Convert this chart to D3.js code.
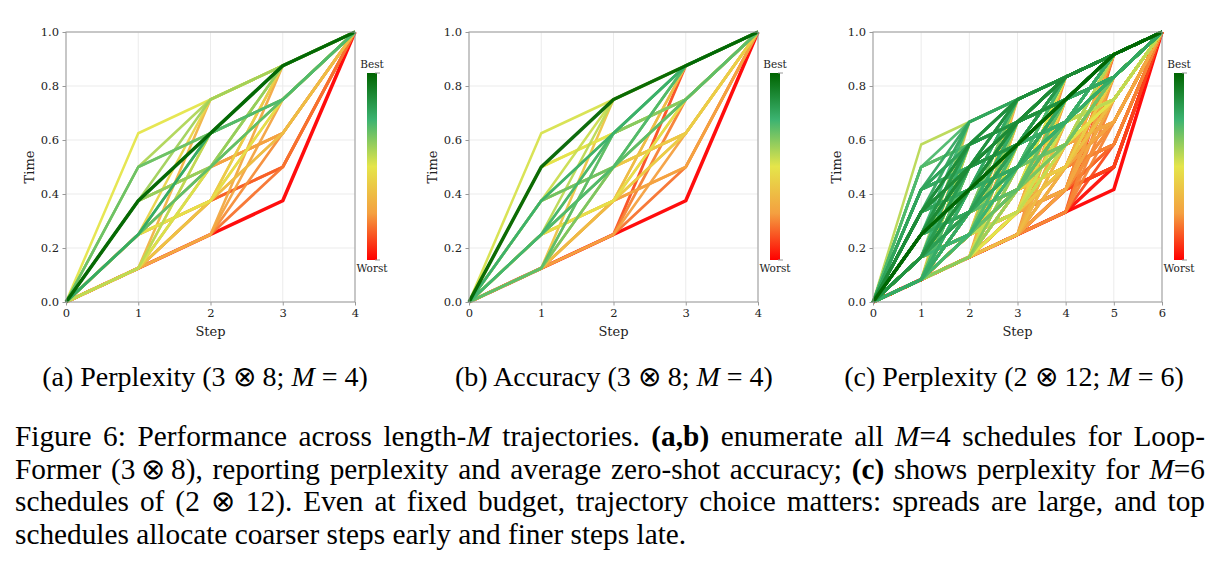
<!DOCTYPE html>
<html>
<head>
<meta charset="utf-8">
<script src="https://cdn.jsdelivr.net/npm/d3@7"></script>
<style>
  body { margin: 0; background: #fff; }
  #fig { position: relative; width: 1219px; height: 568px; overflow: hidden; }
  #fig svg { position: absolute; left: 0; top: 0; }
  .cap { position: absolute; font-family: "Liberation Serif", "Times New Roman", serif;
         font-size: 28px; line-height: 33px; color: #000; white-space: nowrap; }
  .sub { width: 420px; text-align: center; top: 360px; }
  .para { left: 15px; width: 1190px; top: 420px; white-space: normal; font-size: 29.3px; }
  .para div { text-align: justify; text-align-last: justify; height: 32.5px; }
  .para div.last { text-align-last: left; }
</style>
</head>
<body>
<div id="fig"></div>
<script>
// schedules for M=4 over 3x8 (step sizes in eighths)
var scheduleA = ["1115","1124","1133","1142","1151","1214","1223","1232","1241","1313",
                 "1322","1331","1412","1421","1511","2114","2123","2132","2141","2213",
                 "2222","2231","2312","2321","2411","3113","3122","3131","3212","3221",
                 "3311","4112","4121","4211","5111"];

// colour position: 0 = worst, 1 = best
var perplexityA = [0.00, 0.18, 0.22, 0.26, 0.28, 0.15, 0.30, 0.38, 0.30, 0.22,
                   0.46, 0.52, 0.40, 0.56, 0.32, 0.14, 0.36, 0.48, 0.42, 0.24,
                   0.70, 0.62, 0.72, 0.78, 0.44, 0.26, 0.62, 0.60, 0.70, 1.00,
                   0.60, 0.64, 0.68, 0.58, 0.50];

// colour position
var accuracyB = [0.00, 0.18, 0.25, 0.20, 0.12, 0.22, 0.30, 0.35, 0.28, 0.33,
                 0.66, 0.62, 0.64, 0.70, 0.38, 0.26, 0.42, 0.48, 0.36, 0.40,
                 0.70, 0.72, 0.60, 0.74, 0.56, 0.34, 0.58, 0.68, 0.62, 0.76,
                 0.54, 0.45, 0.50, 1.00, 0.52];

// panel (c): all M=6 schedules of 2x12, ranked by an estimated per-step penalty
var unitsC = 12;
var lengthC = 6;
var stepWeightC = [0.5, 0.6, 0.75, 0.9, 1.2, 2.0];
var bestScheduleC = "322221";
// how the ranks spread over the colour bar in (c)
var rankQuantileC = [0, 0.01, 0.04, 0.2, 0.4, 0.6, 0.95, 0.998, 1];
var colourPosC = [0, 0.1, 0.2, 0.3, 0.48, 0.66, 0.8, 0.88, 1];

var timeTicks = [0, 0.2, 0.4, 0.6, 0.8, 1.0];
var cmapStops = [0, 0.25, 0.5, 0.75, 1];
var cmapColors = ["#ff0000", "#f4a040", "#e5e54a", "#3cb371", "#006400"];

var serif = "'DejaVu Serif', serif";
var color = d3.scaleLinear().domain(cmapStops).range(cmapColors);

function compositions(total, parts) {
  if (parts === 1) return [[total]];
  var out = [];
  for (var s = 1; s <= total - parts + 1; s++) {
    compositions(total - s, parts - 1).forEach(function(rest) {
      out.push([s].concat(rest));
    });
  }
  return out;
}

function parseSchedules(list) {
  return list.map(function(s) { return s.split("").map(Number); });
}

var schedC = compositions(unitsC, lengthC);
var costC = schedC.map(function(s) {
  if (s.join("") === bestScheduleC) return -1;
  return d3.sum(s, function(v, i) { return stepWeightC[i] * v * v; });
});
var rankToColour = d3.scaleLinear().domain(rankQuantileC).range(colourPosC);
var orderC = d3.range(schedC.length).sort(function(a, b) { return costC[b] - costC[a]; });
var scoreC = new Array(schedC.length);
orderC.forEach(function(idx, r) { scoreC[idx] = rankToColour(r / (schedC.length - 1)); });

var panels = [
  { left: 66, units: 8, steps: parseSchedules(scheduleA), score: perplexityA },
  { left: 469, units: 8, steps: parseSchedules(scheduleA), score: accuracyB },
  { left: 873, units: unitsC, steps: schedC, score: scoreC }
];

var plotW = 289, plotH = 270, plotTop = 32;

var svg = d3.select("#fig").append("svg").attr("width", 1219).attr("height", 568);

var defs = svg.append("defs");
var grad = defs.append("linearGradient").attr("id", "cbar")
  .attr("x1", 0).attr("y1", 1).attr("x2", 0).attr("y2", 0);
cmapStops.forEach(function(s, i) {
  grad.append("stop").attr("offset", s).attr("stop-color", cmapColors[i]);
});

panels.forEach(function(p) {
  var M = p.steps[0].length;
  var g = svg.append("g").attr("transform", "translate(" + p.left + "," + plotTop + ")");

  var x = d3.scaleLinear().domain([0, M]).range([0, plotW]);
  var y = d3.scaleLinear().domain([0, 1]).range([plotH, 0]);

  // grid
  g.append("g").selectAll("line").data(d3.range(M + 1)).enter().append("line")
    .attr("x1", d => x(d)).attr("x2", d => x(d)).attr("y1", 0).attr("y2", plotH)
    .attr("stroke", "#ebebeb").attr("stroke-width", 1);
  g.append("g").selectAll("line").data(timeTicks).enter().append("line")
    .attr("y1", d => y(d)).attr("y2", d => y(d)).attr("x1", 0).attr("x2", plotW)
    .attr("stroke", "#ebebeb").attr("stroke-width", 1);

  // trajectories, worst first so the best sits on top
  var data = p.steps.map(function(s, i) {
    var cum = [0];
    s.forEach(function(v) { cum.push(cum[cum.length - 1] + v); });
    return { pts: cum.map(c => c / p.units), score: p.score[i] };
  }).sort((a, b) => a.score - b.score);

  var line = d3.line().x((d, i) => x(i)).y(d => y(d));
  g.append("g").selectAll("path").data(data).enter().append("path")
    .attr("d", d => line(d.pts))
    .attr("fill", "none")
    .attr("stroke", d => color(d.score))
    .attr("stroke-width", d => 2.5 + 1.0 * Math.pow(Math.abs(2 * d.score - 1), 3))
    .attr("stroke-linejoin", "round")
    .attr("opacity", 0.95);

  // axes
  var xAxis = g.append("g").attr("transform", "translate(0," + plotH + ")")
    .call(d3.axisBottom(x).tickValues(d3.range(M + 1)).tickFormat(d3.format("d")).tickSizeOuter(0).tickSize(3.5).tickPadding(3));
  var yAxis = g.append("g")
    .call(d3.axisLeft(y).tickValues(timeTicks).tickFormat(d3.format(".1f")).tickSizeOuter(0).tickSize(3.5).tickPadding(3.5));
  [xAxis, yAxis].forEach(function(a) {
    a.attr("font-family", serif).attr("font-size", 11.5);
    a.select(".domain").remove();
    a.selectAll(".tick line").attr("stroke", "#999");
    a.selectAll(".tick text").attr("fill", "#222");
  });
  g.append("rect").attr("width", plotW).attr("height", plotH)
    .attr("fill", "none").attr("stroke", "#999").attr("stroke-width", 1);

  g.append("text")
    .attr("x", plotW / 2).attr("y", plotH + 29)
    .attr("dy", "0.35em").attr("text-anchor", "middle")
    .attr("font-family", serif).attr("font-size", 13).attr("fill", "#222").text("Step");
  g.append("text")
    .attr("transform", "translate(-37," + (plotH / 2) + ") rotate(-90)")
    .attr("dy", "0.35em").attr("text-anchor", "middle")
    .attr("font-family", serif).attr("font-size", 13).attr("fill", "#222").text("Time");

  // colour bar
  var cb = svg.append("g").attr("transform", "translate(" + (p.left + plotW + 12) + ",73)");
  cb.append("rect").attr("width", 10).attr("height", 187).attr("fill", "url(#cbar)");
  cb.append("line").attr("x1", 8).attr("x2", 13).attr("y1", 0).attr("y2", 0).attr("stroke", "#999");
  cb.append("line").attr("x1", 8).attr("x2", 13).attr("y1", 187).attr("y2", 187).attr("stroke", "#999");
  cb.append("text").attr("x", 5).attr("y", -9)
    .attr("dy", "0.35em").attr("text-anchor", "middle")
    .attr("font-family", serif).attr("font-size", 10.5).attr("fill", "#222").text("Best");
  cb.append("text").attr("x", 5).attr("y", 195)
    .attr("dy", "0.35em").attr("text-anchor", "middle")
    .attr("font-family", serif).attr("font-size", 10.5).attr("fill", "#222").text("Worst");
});

// captions
var fig = d3.select("#fig");
var subCaps = [
  { cx: 205, html: "(a) Perplexity (3 \u2297 8; <i>M</i> = 4)" },
  { cx: 614, html: "(b) Accuracy (3 \u2297 8; <i>M</i> = 4)" },
  { cx: 1014, html: "(c) Perplexity (2 \u2297 12; <i>M</i> = 6)" }
];
subCaps.forEach(function(c) {
  fig.append("div").attr("class", "cap sub").style("left", (c.cx - 210) + "px").html(c.html);
});

var paraLines = [
  "Figure 6: Performance across length-<i>M</i> trajectories. <b>(a,b)</b> enumerate all <i>M</i>=4 schedules for Loop-",
  "Former (3\u2009\u2297\u20098), reporting perplexity and average zero-shot accuracy; <b>(c)</b> shows perplexity for <i>M</i>=6",
  "schedules of (2 \u2297 12). Even at fixed budget, trajectory choice matters: spreads are large, and top",
  "schedules allocate coarser steps early and finer steps late."
];
var para = fig.append("div").attr("class", "cap para");
paraLines.forEach(function(t, i) {
  para.append("div").attr("class", i === paraLines.length - 1 ? "last" : null).html(t);
});
</script>
</body>
</html>
